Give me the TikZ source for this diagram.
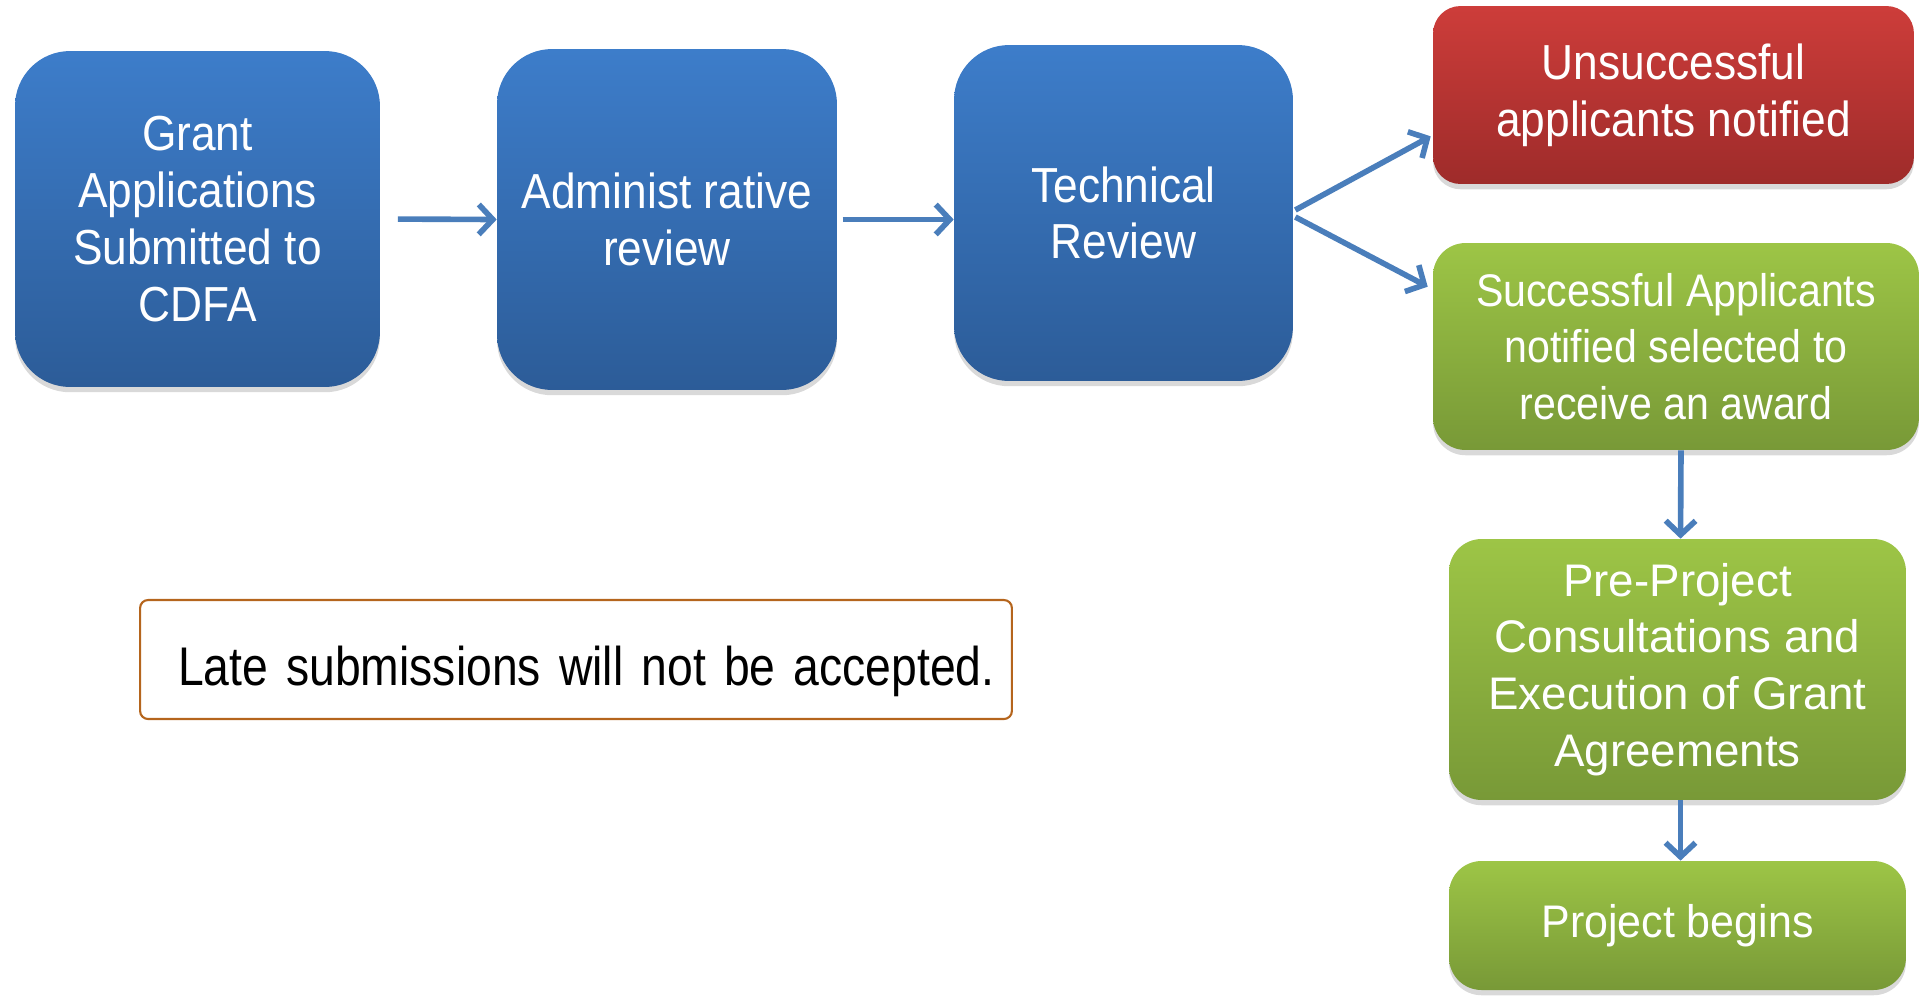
\documentclass[tikz,border=0pt]{standalone}
\usepackage{fontspec}
\setmainfont{Liberation Sans}
\newfontfamily\narrowfont[FakeStretch=0.9]{Liberation Sans}
\newfontfamily\notefont[FakeStretch=0.85]{Liberation Sans}
\newfontfamily\midfont[FakeStretch=0.94]{Liberation Sans}
\usetikzlibrary{arrows.meta,shadows,calc}
\definecolor{blueTop}{HTML}{3D7DCA}
\definecolor{blueBot}{HTML}{2C5C98}
\definecolor{redTop}{HTML}{CD3D3A}
\definecolor{redBot}{HTML}{9E2B2A}
\definecolor{greenTop}{HTML}{9DC546}
\definecolor{greenBot}{HTML}{789937}
\definecolor{flowblue}{HTML}{4A7EBB}
\definecolor{noteline}{HTML}{B5651D}

\begin{document}
\begin{tikzpicture}[x=0.02cm,y=-0.02cm,
    box/.style={align=center,text=white,inner sep=0pt,
      font=\fontsize{26}{32.3}\selectfont,
      drop shadow={shadow xshift=0pt,shadow yshift=-3pt,opacity=0.3}},
    bluebox/.style={box,font=\narrowfont\fontsize{28}{32.3}\selectfont,
      rounded corners=1.1cm,top color=blueTop,bottom color=blueBot},
    redbox/.style={box,font=\narrowfont\fontsize{28}{32.3}\selectfont,
      rounded corners=0.55cm,top color=redTop,bottom color=redBot},
    greenbox/.style={box,rounded corners=0.65cm,top color=greenTop,bottom color=greenBot},
    notebox/.style={draw=noteline,line width=1.2pt,rounded corners=0.16cm,
      font=\notefont\fontsize{31}{34}\selectfont,inner sep=0pt},
    flow/.style={draw=flowblue,line width=3.2pt,-{Straight Barb[length=8pt,width=17pt]}}]
  \useasboundingbox (0,0) rectangle (1921,995);

  % review stages
  \node[bluebox,minimum width=7.3cm,minimum height=6.72cm] (grant) at (197.5,219)
    {Grant\\Applications\\Submitted to\\CDFA};
  \node[bluebox,minimum width=6.8cm,minimum height=6.82cm] (admin) at (667,219.5)
    {Administ rative\\review};
  \node[bluebox,minimum width=6.78cm,minimum height=6.72cm] (tech) at (1123.5,213)
    {Technical\\Review};

  % outcomes
  \node[redbox,minimum width=9.62cm,minimum height=3.56cm] (unsucc) at (1673.5,95)
    {Unsuccessful\\applicants notified};
  \node[greenbox,font=\narrowfont\fontsize{26}{32.3}\selectfont,
    minimum width=9.72cm,minimum height=4.14cm] (succ) at (1676,346.5)
    {Successful Applicants\\notified selected to\\receive an award};
  \node[greenbox,minimum width=9.14cm,minimum height=5.22cm] (consult) at (1677.5,669.5)
    {Pre-Project\\Consultations and\\Execution of Grant\\Agreements};
  \node[greenbox,font=\midfont\fontsize{26}{32.3}\selectfont,
    minimum width=9.14cm,minimum height=2.58cm] (begins) at (1677.5,925.5)
    {Project begins};

  \node[notebox,minimum width=17.44cm,minimum height=2.38cm,text width=16.9cm,align=left,
    text height=29.2pt,text depth=0pt] (late) at (576,659.5)
    {\hspace*{0.49cm}Late submissions will not be accepted.};

  \draw[flow,shorten <=10pt] (grant.east) -- (admin.west);
  \draw[flow,shorten <=3pt] (admin.east) -- (admin.east -| tech.west);
  \draw[flow] ($(tech.east)+(2,-3)$) -- ($(unsucc.south west)+(-2,-48)$);
  \draw[flow] ($(tech.east)+(2,4)$) -- ($(succ.north west)+(-5,44)$);
  \draw[flow] ($(succ.south)+(5,0)$) -- ($(consult.north)+(3,0)$);
  \draw[flow] ($(consult.south)+(3,0)$) -- ($(begins.north)+(3,0)$);
\end{tikzpicture}
\end{document}
